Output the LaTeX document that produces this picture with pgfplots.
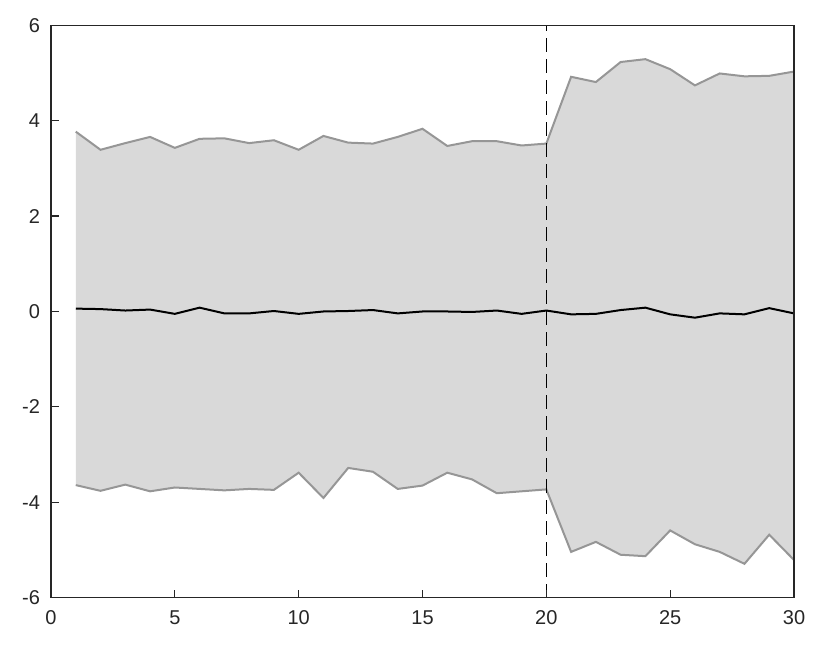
\documentclass[border=0pt]{standalone}
\usepackage{fontspec}
\setmainfont{Liberation Sans}
\usepackage{pgfplots}
\pgfplotsset{compat=1.18}
\usepackage{pgfplotstable}
\usepgfplotslibrary{fillbetween}
\definecolor{bandfill}{RGB}{217,217,217}
\definecolor{bandedge}{RGB}{150,150,150}
\definecolor{axcol}{RGB}{38,38,38}
\pgfplotstableread{
x   lo     mean   hi
1  -3.64   0.06   3.77
2  -3.76   0.05   3.39
3  -3.63   0.02   3.53
4  -3.77   0.04   3.66
5  -3.69  -0.05   3.43
6  -3.72   0.08   3.62
7  -3.75  -0.04   3.63
8  -3.72  -0.04   3.53
9  -3.74   0.01   3.59
10 -3.38  -0.05   3.39
11 -3.91   0.00   3.68
12 -3.28   0.01   3.54
13 -3.36   0.03   3.52
14 -3.72  -0.04   3.66
15 -3.65   0.00   3.83
16 -3.38   0.00   3.47
17 -3.52  -0.01   3.57
18 -3.81   0.02   3.57
19 -3.77  -0.05   3.48
20 -3.73   0.02   3.52
21 -5.04  -0.06   4.92
22 -4.83  -0.05   4.81
23 -5.10   0.03   5.23
24 -5.13   0.08   5.29
25 -4.59  -0.06   5.08
26 -4.88  -0.13   4.74
27 -5.04  -0.04   4.99
28 -5.29  -0.06   4.93
29 -4.68   0.07   4.94
30 -5.21  -0.04   5.03
}\datatable
\begin{document}
\begin{tikzpicture}
\begin{axis}[
  width=371.5pt, height=286.2pt, scale only axis,
  xmin=0, xmax=30, ymin=-6, ymax=6,
  axis line style={color=axcol, line width=0.6pt},
  xtick pos=bottom, ytick pos=left,
  tick align=inside,
  major tick length=4pt,
  tick style={color=axcol, line width=0.6pt},
  xtick={0,5,...,30}, ytick={-6,-4,...,6},
  ticklabel style={font=\fontsize{10}{12}\selectfont, color=axcol},
  /pgf/number format/assume math mode=true,
  yticklabel style={xshift=-2pt},
  xticklabel style={yshift=-3pt},
  axis on top,
]
\addplot[name path=hi, draw=none] table[x=x, y=hi] {\datatable};
\addplot[name path=lo, draw=none] table[x=x, y=lo] {\datatable};
\addplot[bandfill, draw=none] fill between[of=hi and lo];
\addplot[color=bandedge, line width=1pt] table[x=x, y=hi] {\datatable};
\addplot[color=bandedge, line width=1pt] table[x=x, y=lo] {\datatable};
\addplot[black, line width=1pt] table[x=x, y=mean] {\datatable};
\addplot[black, line width=0.5pt, dash pattern=on 7pt off 3.5pt] coordinates {(20,-6) (20,6)};
\coordinate (bl) at (rel axis cs:0,0);
\coordinate (tr) at (rel axis cs:1,1);
\end{axis}
\pgfresetboundingbox
\useasboundingbox ([shift={(-25.5pt,-25.15pt)}]bl) rectangle ([shift={(18pt,12.65pt)}]tr);
\end{tikzpicture}
\end{document}
